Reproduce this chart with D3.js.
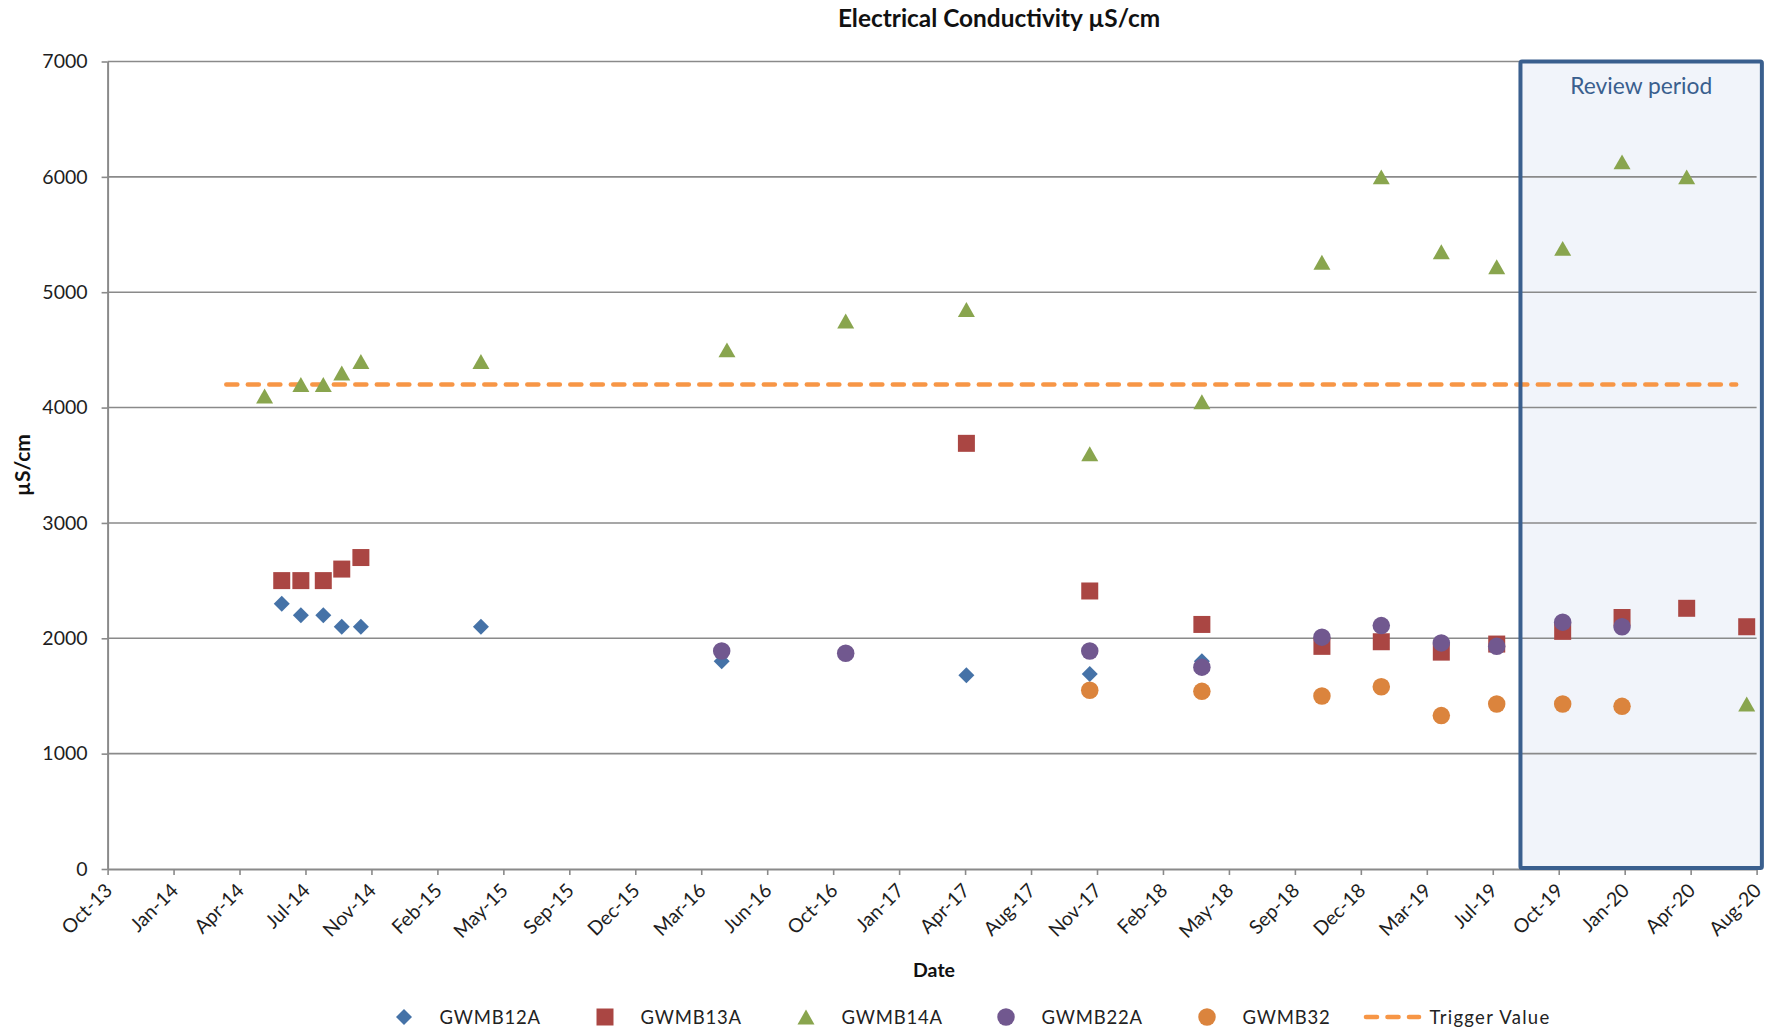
<!DOCTYPE html>
<html>
<head>
<meta charset="utf-8">
<script src="https://cdn.jsdelivr.net/npm/d3@7/dist/d3.min.js"></script>
<style>
  html, body { margin: 0; padding: 0; background: #ffffff; }
  svg { display: block; }
  .tick text { font-family: Lato, "Open Sans", sans-serif; fill: #1e1e1e; }
</style>
</head>
<body>
<svg id="chart" width="1774" height="1032"></svg>
<script>
// ---- Data -------------------------------------------------------------
const xTickDates = ["2013-10-01","2014-01-09","2014-04-19","2014-07-28","2014-11-05",
  "2015-02-13","2015-05-24","2015-09-01","2015-12-10","2016-03-19","2016-06-27",
  "2016-10-05","2017-01-13","2017-04-23","2017-08-01","2017-11-09","2018-02-17",
  "2018-05-28","2018-09-05","2018-12-14","2019-03-24","2019-07-02","2019-10-10",
  "2020-01-18","2020-04-27","2020-08-05"];
const yTicks = [0, 1000, 2000, 3000, 4000, 5000, 6000, 7000];

const gwmb12aDates = ["2014-06-22","2014-07-21","2014-08-24","2014-09-21","2014-10-20",
  "2015-04-20","2016-04-19","2017-04-25","2017-10-29","2018-04-17"];
const gwmb12aValues = [2300, 2200, 2200, 2100, 2100, 2100, 1800, 1680, 1690, 1800];

const gwmb13aDates = ["2014-06-22","2014-07-21","2014-08-24","2014-09-21","2014-10-20",
  "2017-04-25","2017-10-29","2018-04-17","2018-10-16","2019-01-14","2019-04-15",
  "2019-07-08","2019-10-16","2020-01-14","2020-04-21","2020-07-21"];
const gwmb13aValues = [2500, 2500, 2500, 2600, 2700, 3690, 2410, 2120, 1930, 1970, 1880,
  1950, 2060, 2180, 2260, 2100];

const gwmb14aDates = ["2014-05-27","2014-07-21","2014-08-24","2014-09-21","2014-10-20",
  "2015-04-20","2016-04-27","2016-10-24","2017-04-25","2017-10-29","2018-04-17",
  "2018-10-16","2019-01-14","2019-04-15","2019-07-08","2019-10-16","2020-01-14",
  "2020-04-21","2020-07-21"];
const gwmb14aValues = [4100, 4200, 4200, 4300, 4400, 4400, 4500, 4750, 4850, 3600, 4050,
  5260, 6000, 5350, 5220, 5380, 6130, 6000, 1430];

const gwmb22aDates = ["2016-04-19","2016-10-24","2017-10-29","2018-04-17","2018-10-16",
  "2019-01-14","2019-04-15","2019-07-08","2019-10-16","2020-01-14"];
const gwmb22aValues = [1890, 1870, 1890, 1750, 2010, 2110, 1960, 1930, 2140, 2100];

const gwmb32Dates = ["2017-10-29","2018-04-17","2018-10-16","2019-01-14","2019-04-15",
  "2019-07-08","2019-10-16","2020-01-14"];
const gwmb32Values = [1550, 1540, 1500, 1580, 1330, 1430, 1430, 1410];

const triggerDates = ["2014-03-30","2020-07-05"];
const triggerValues = [4200, 4200];

const reviewPeriod = ["2019-08-13","2020-08-13"];

const seriesNames = ["GWMB12A","GWMB13A","GWMB14A","GWMB22A","GWMB32"];
const seriesColors = ["#4572a7","#aa4643","#89a54e","#71588f","#db843d"];
const triggerName = "Trigger Value";
const triggerColor = "#f79646";

// ---- Setup -------------------------------------------------------------
const parse = d3.utcParse("%Y-%m-%d");
const fmt = d3.utcFormat("%b-%y");
const svg = d3.select("#chart");

const plotLeft = 107.6, plotRight = 1756.6, plotTop = 61.5, plotBottom = 869;

const x = d3.scaleUtc()
  .domain([parse(xTickDates[0]), parse(xTickDates[xTickDates.length - 1])])
  .range([plotLeft, plotRight]);
const y = d3.scaleLinear().domain([0, 7000]).range([plotBottom, plotTop]);

// Marker shapes (Excel-style), sized in pixels
const shapes = {
  diamond: { draw(ctx, s) { const r = s / 2; ctx.moveTo(0, -r); ctx.lineTo(r, 0); ctx.lineTo(0, r); ctx.lineTo(-r, 0); ctx.closePath(); } },
  square:  { draw(ctx, s) { const r = s / 2; ctx.rect(-r, -r, s, s); } },
  triangle:{ draw(ctx, s) { const hw = s / 2, h = s * 0.88; ctx.moveTo(0, -h / 2); ctx.lineTo(hw, h / 2); ctx.lineTo(-hw, h / 2); ctx.closePath(); } },
  circle:  { draw(ctx, s) { ctx.moveTo(s / 2, 0); ctx.arc(0, 0, s / 2, 0, 2 * Math.PI); } }
};
const seriesShapes = [shapes.diamond, shapes.square, shapes.triangle, shapes.circle, shapes.circle];
const seriesSizes = [16, 17, 17, 17.5, 17.5];

const seriesDates = [gwmb12aDates, gwmb13aDates, gwmb14aDates, gwmb22aDates, gwmb32Dates];
const seriesValues = [gwmb12aValues, gwmb13aValues, gwmb14aValues, gwmb22aValues, gwmb32Values];
const series = seriesNames.map((name, i) => ({
  name, color: seriesColors[i], shape: seriesShapes[i], size: seriesSizes[i],
  points: seriesDates[i].map((d, j) => ({ date: parse(d), value: seriesValues[i][j] }))
}));

// ---- Review period background -----------------------------------------
const rx0 = x(parse(reviewPeriod[0])), rx1 = x(parse(reviewPeriod[1]));
svg.append("rect")
  .attr("x", rx0).attr("y", y(7000))
  .attr("width", rx1 - rx0).attr("height", y(0) - y(7000) - 1)
  .attr("fill", "#f1f4fa");

// ---- Gridlines ---------------------------------------------------------
svg.append("g").selectAll("line")
  .data(yTicks.filter(v => v > 0))
  .join("line")
  .attr("x1", plotLeft).attr("x2", plotRight)
  .attr("y1", d => y(d)).attr("y2", d => y(d))
  .attr("stroke", "#8a8a8a").attr("stroke-width", 1.6);

// ---- Axes --------------------------------------------------------------
const yAxis = svg.append("g")
  .attr("transform", `translate(${plotLeft},0)`)
  .call(d3.axisLeft(y).tickValues(yTicks).tickFormat(d3.format("d"))
    .tickSize(6).tickSizeOuter(0).tickPadding(14));
yAxis.select(".domain").attr("stroke", "#8a8a8a").attr("stroke-width", 2);
yAxis.selectAll(".tick line").attr("stroke", "#8a8a8a").attr("stroke-width", 1.6);
yAxis.selectAll(".tick text").attr("font-size", 19.5);

const xAxis = svg.append("g")
  .attr("transform", `translate(0,${plotBottom})`)
  .call(d3.axisBottom(x).tickValues(xTickDates.map(parse)).tickFormat(fmt)
    .tickSize(6).tickSizeOuter(0));
xAxis.select(".domain").attr("stroke", "#8a8a8a").attr("stroke-width", 2);
xAxis.selectAll(".tick line").attr("stroke", "#8a8a8a").attr("stroke-width", 1.6);
xAxis.selectAll(".tick text")
  .attr("font-size", 19.5)
  .attr("text-anchor", "end")
  .attr("x", 0).attr("y", 0).attr("dy", "0.35em")
  .attr("transform", "translate(0.5,18) rotate(-45)");

// ---- Trigger value line ------------------------------------------------
const triggerPts = triggerDates.map((d, i) => ({ date: parse(d), value: triggerValues[i] }));
const line = d3.line().x(d => x(d.date)).y(d => y(d.value));
svg.append("path")
  .datum(triggerPts)
  .attr("d", line)
  .attr("fill", "none")
  .attr("stroke", triggerColor)
  .attr("stroke-width", 4.6)
  .attr("stroke-linecap", "round")
  .attr("stroke-dasharray", "11 10.5");

// ---- Review period frame -----------------------------------------------
svg.append("rect")
  .attr("x", rx0).attr("y", y(7000))
  .attr("width", rx1 - rx0).attr("height", y(0) - y(7000) - 1)
  .attr("fill", "none")
  .attr("stroke", "#3a5f8e").attr("stroke-width", 4).attr("rx", 1.5);

svg.append("text")
  .attr("x", (rx0 + rx1) / 2).attr("y", 94)
  .attr("text-anchor", "middle")
  .attr("font-family", "Lato, sans-serif").attr("font-size", 22.8)
  .attr("fill", "#3a5f8e")
  .text("Review period");

// ---- Markers -----------------------------------------------------------
series.forEach(s => {
  svg.append("g").selectAll("path")
    .data(s.points)
    .join("path")
    .attr("transform", d => `translate(${x(d.date)},${y(d.value)})`)
    .attr("d", d3.symbol().type(s.shape).size(s.size))
    .attr("fill", s.color);
});

// ---- Titles ------------------------------------------------------------
svg.append("text")
  .attr("x", 999).attr("y", 27)
  .attr("text-anchor", "middle")
  .attr("font-family", "Lato, sans-serif").attr("font-weight", "bold").attr("font-size", 24.4)
  .attr("fill", "#111")
  .text("Electrical Conductivity µS/cm");

svg.append("text")
  .attr("transform", "translate(30,465) rotate(-90)")
  .attr("text-anchor", "middle")
  .attr("font-family", "Lato, sans-serif").attr("font-weight", "bold").attr("font-size", 21)
  .attr("fill", "#111")
  .text("µS/cm");

svg.append("text")
  .attr("x", 934).attr("y", 977)
  .attr("text-anchor", "middle")
  .attr("font-family", "Lato, sans-serif").attr("font-weight", "bold").attr("font-size", 19.5)
  .attr("fill", "#111")
  .text("Date");

// ---- Legend ------------------------------------------------------------
const legendY = 1017;
const legendX = [404, 605, 806, 1006, 1207];
const legend = svg.append("g");
series.forEach((s, i) => {
  legend.append("path")
    .attr("transform", `translate(${legendX[i]},${legendY})`)
    .attr("d", d3.symbol().type(s.shape).size(s.size))
    .attr("fill", s.color);
  legend.append("text")
    .attr("x", legendX[i] + 35.5).attr("y", legendY + 7)
    .attr("font-family", "Lato, sans-serif").attr("font-size", 18.5)
    .attr("letter-spacing", 0.8)
    .attr("fill", "#222")
    .text(s.name);
});
legend.append("line")
  .attr("x1", 1366).attr("x2", 1419)
  .attr("y1", legendY).attr("y2", legendY)
  .attr("stroke", triggerColor).attr("stroke-width", 4.6)
  .attr("stroke-linecap", "round").attr("stroke-dasharray", "11 10.5");
legend.append("text")
  .attr("x", 1429.5).attr("y", legendY + 7)
  .attr("font-family", "Lato, sans-serif").attr("font-size", 18.5)
  .attr("letter-spacing", 1.3)
  .attr("fill", "#222")
  .text(triggerName);
</script>
</body>
</html>
